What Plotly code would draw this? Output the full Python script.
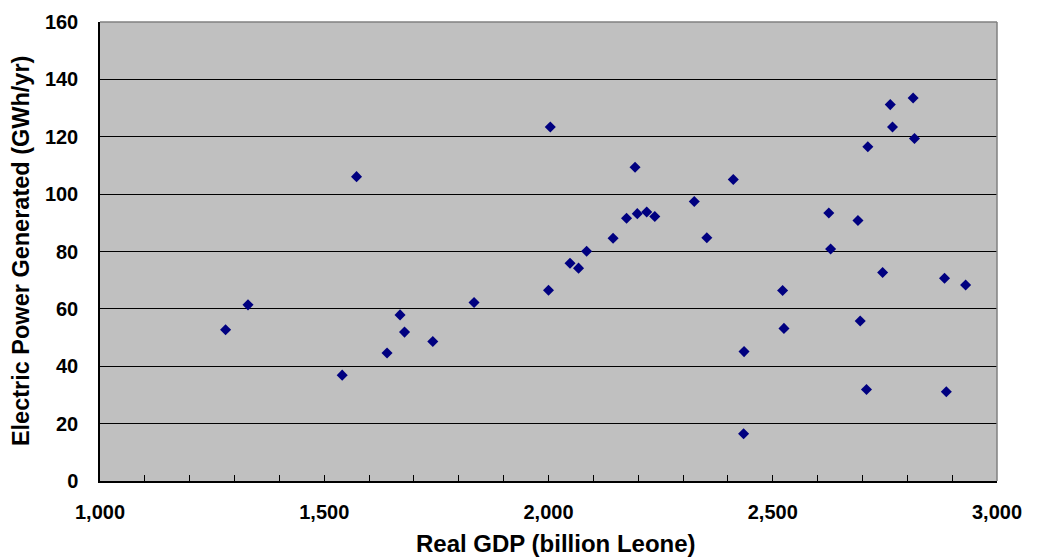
import plotly.graph_objects as go

# Real GDP (billion Leone) vs electric power generated (GWh/yr)
gdp = [1280, 1330, 1540, 1572, 1640, 1669, 1679, 1742, 1834,
       2000, 2004, 2048, 2067, 2085, 2144, 2174, 2193, 2198, 2219, 2237,
       2325, 2353, 2412, 2436, 2435, 2522, 2525, 2625, 2629, 2690,
       2695, 2709, 2712, 2745, 2762, 2767, 2813, 2816, 2883, 2887, 2930]
power = [52.7, 61.4, 36.9, 106.1, 44.6, 57.9, 51.9, 48.6, 62.2,
         66.5, 123.4, 75.9, 74.2, 80.1, 84.6, 91.6, 109.4, 93.2, 93.8, 92.2,
         97.4, 84.8, 105.1, 45.1, 16.5, 66.4, 53.2, 93.4, 80.9, 90.8,
         55.8, 31.9, 116.5, 72.7, 131.2, 123.4, 133.5, 119.4, 70.7, 31.1, 68.3]

x_title = "Real GDP (billion Leone)"
y_title = "Electric Power Generated (GWh/yr)"

font_family = "Liberation Sans, Arial, sans-serif"

fig = go.Figure(
    go.Scatter(
        x=gdp, y=power, mode="markers",
        marker=dict(symbol="diamond", size=8.5, color="#000080",
                    line=dict(width=0)),
        hoverinfo="x+y",
    )
)

fig.update_layout(
    width=1037, height=560,
    margin=dict(l=100, r=40, t=22, b=79),
    paper_bgcolor="white",
    plot_bgcolor="#C0C0C0",
    showlegend=False,
    font=dict(family=font_family, color="black"),
    xaxis=dict(
        range=[1000, 3000], dtick=500, tickformat=",d",
        showgrid=False, zeroline=False,
        showline=True, linecolor="black", linewidth=1.5,
        ticks="inside", ticklen=6, tickcolor="black",
        minor=dict(dtick=100, ticks="inside", ticklen=6, tickcolor="black"),
        tickfont=dict(size=20, family=font_family, color="black"),
        ticklabelstandoff=12,
    ),
    yaxis=dict(
        range=[0, 160], dtick=20,
        showgrid=True, gridcolor="black", gridwidth=1, zeroline=False,
        showline=True, linecolor="black", linewidth=1.5,
        ticks="inside", ticklen=6, tickcolor="black",
        tickfont=dict(size=20, family=font_family, color="black"),
        ticklabelstandoff=16,
    ),
)

# bold tick labels
fig.update_xaxes(tickprefix="<b>", ticksuffix="</b>")
fig.update_yaxes(tickprefix="<b>", ticksuffix="</b>")

# axis titles
fig.add_annotation(text="<b>" + x_title + "</b>", xref="paper", yref="paper",
                   x=0.508, y=-0.137, xanchor="center", yanchor="middle",
                   showarrow=False, font=dict(size=24, family=font_family))
fig.add_annotation(text="<b>" + y_title + "</b>", xref="paper", yref="paper",
                   x=-0.088, y=0.501, xanchor="center", yanchor="middle",
                   textangle=-90, showarrow=False,
                   font=dict(size=23.5, family=font_family))

# grey frame on top and right edges of the plot area
fig.add_shape(type="line", xref="paper", yref="paper", x0=0, x1=1, y0=1, y1=1,
              line=dict(color="#808080", width=1.5), layer="above")
fig.add_shape(type="line", xref="paper", yref="paper", x0=1, x1=1, y0=0, y1=1,
              line=dict(color="#808080", width=1.5), layer="above")

fig.write_html("out.html")
